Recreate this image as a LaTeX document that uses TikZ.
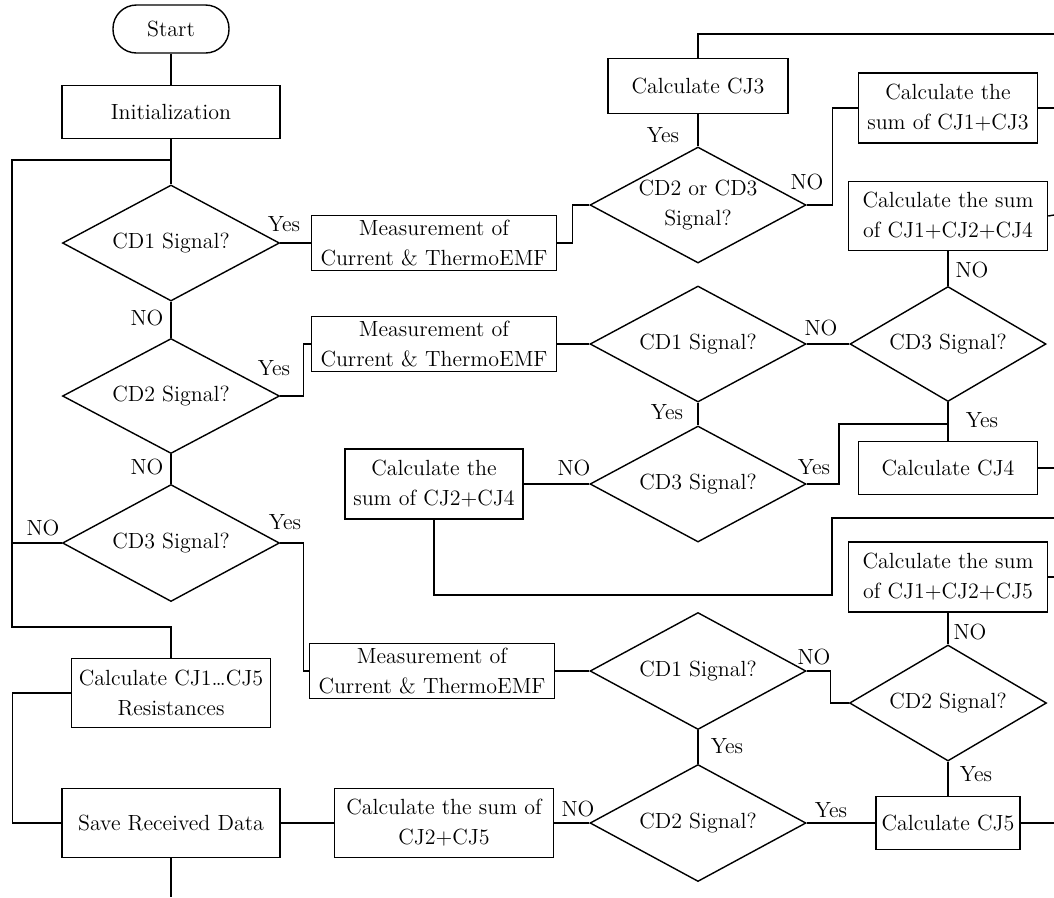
\documentclass[tikz,border=0pt]{standalone}
\usepackage{fontspec}
\usetikzlibrary{shapes.geometric}
\begin{document}
\begin{tikzpicture}[x=0.02cm,y=-0.02cm, line width=0.8pt,
  every node/.style={font=\fontsize{12.5}{17}\selectfont, align=center, inner sep=0pt},
  sz/.style 2 args={minimum width=#1*0.02cm, minimum height=#2*0.02cm},
  box/.style={draw, rectangle},
  term/.style={draw, rectangle, rounded corners=0.47cm},
  dia/.style={draw, diamond, aspect=1.86, inner sep=0pt},
  lbl/.style={}]
\useasboundingbox (0,0) rectangle (1054,897);
% left column
\node[term, sz={116}{48}] (start) at (171,29) {Start};
\node[box, sz={218}{53}] (init) at (171,112) {Initialization};
\node[dia, sz={217}{116}] (cd1) at (171,243) {CD1 Signal?};
\node[dia, sz={217}{115}] (cd2) at (171,396) {CD2 Signal?};
\node[dia, sz={217}{117}] (cd3) at (171,543) {CD3 Signal?};
\node[box, sz={199}{69}] (calc15) at (171,693) {Calculate CJ1\ldots CJ5\\Resistances};
\node[box, sz={218}{69}] (save) at (171,823) {Save Received Data};
% measurement boxes
\node[box, sz={245}{55}] (meas1) at (434,243) {Measurement of\\Current \& ThermoEMF};
\node[box, sz={245}{55}] (meas2) at (434,344) {Measurement of\\Current \& ThermoEMF};
\node[box, sz={245}{55}] (meas3) at (432,671) {Measurement of\\Current \& ThermoEMF};
% middle column
\node[box, sz={180}{55}] (cj3) at (698,86) {Calculate CJ3};
\node[dia, sz={216}{116}] (cd23) at (698,205) {CD2 or CD3\\Signal?};
\node[dia, sz={216}{116}] (cd1b) at (698,344) {CD1 Signal?};
\node[dia, sz={216}{116}] (cd3c) at (698,484) {CD3 Signal?};
\node[box, sz={178}{70}] (s24) at (434,484) {Calculate the\\sum of CJ2+CJ4};
\node[dia, sz={216}{117}] (cd1c) at (698,671) {CD1 Signal?};
\node[dia, sz={216}{117}] (cd2d) at (698,823) {CD2 Signal?};
\node[box, sz={219}{69}] (s25) at (444,823) {Calculate the sum of\\CJ2+CJ5};
% right column
\node[box, sz={179}{70}] (s13) at (948,108) {Calculate the\\sum of CJ1+CJ3};
\node[box, sz={199}{69}] (s124) at (948,216) {Calculate the sum\\of CJ1+CJ2+CJ4};
\node[dia, sz={196}{115}] (cd3b) at (948,344) {CD3 Signal?};
\node[box, sz={179}{53}] (cj4) at (948,468) {Calculate CJ4};
\node[box, sz={199}{70}] (s125) at (948,577) {Calculate the sum\\of CJ1+CJ2+CJ5};
\node[dia, sz={197}{116}] (cd2c) at (948,703) {CD2 Signal?};
\node[box, sz={144}{53}] (cj5) at (948,823) {Calculate CJ5};
% free ends
\coordinate (j1) at (171,160);
\coordinate (L1) at (12,160);
\coordinate (L2) at (12,627);
\coordinate (j2) at (171,627);
\coordinate (e1) at (1054,34);
\coordinate (e2) at (1054,108);
\coordinate (e3) at (1054,215);
\coordinate (e4) at (1054,468);
\coordinate (e5) at (1054,518);
\coordinate (e6) at (1054,577);
\coordinate (e7) at (1054,823);
\coordinate (e8) at (171,897);
\coordinate (j3) at (948,424);
% connectors
\draw (start) -- (init);
\draw (init) -- (cd1);
\draw (j1) -- (L1) -- (L2) -- (j2) -- (calc15.north);
\draw (cd3.west) -- (cd3.west -| L1);
\draw (cd1) -- (cd2);
\draw (cd2) -- (cd3);
\draw (cd1.east) -- (meas1.west);
\draw (meas1.east) -- ++(15,0) |- (cd23.west);
\draw (cd23.north) -- (cj3.south);
\draw (cj3.north) |- (e1);
\draw (cd23.east) -- ++(26,0) |- (s13.west);
\draw (s13.east) -- (e2);
\draw (s124.east) -- (e3);
\draw (s124.south) -- (cd3b.north);
\draw (cd2.east) -- ++(23,0) |- (meas2.west);
\draw (meas2.east) -- (cd1b.west);
\draw (cd1b.east) -- (cd3b.west);
\draw (cd3b.south) -- (cj4.north);
\draw (j3) -- (839,424) |- (cd3c.east);
\draw (cj4.east) -- (e4);
\draw (cd1b.south) -- (cd3c.north);
\draw (cd3c.west) -- (s24.east);
\draw (s24.south) |- (832,595) |- (e5);
\draw (s125.east) -- (e6);
\draw (s125.south) -- (cd2c.north);
\draw (cd2c.south) -- (cj5.north);
\draw (cj5.east) -- (e7);
\draw (cd3.east) -- ++(23,0) |- (meas3.west);
\draw (meas3.east) -- (cd1c.west);
\draw (cd1c.east) -- ++(24,0) |- (cd2c.west);
\draw (cd1c.south) -- (cd2d.north);
\draw (cd2d.east) -- (cj5.west);
\draw (cd2d.west) -- (s25.east);
\draw (s25.west) -- (save.east);
\draw (save.west) -- ++(-49,0) |- (calc15.west);
\draw (save.south) -- (e8);
% labels
\node[lbl] (l1) at (284,224) {Yes};
\node[lbl] (l2) at (147,318) {NO};
\node[lbl] (l3) at (274,368) {Yes};
\node[lbl] (l4) at (147,467) {NO};
\node[lbl] (l5) at (43,528) {NO};
\node[lbl] (l6) at (285,522) {Yes};
\node[lbl] (l7) at (663,135) {Yes};
\node[lbl] (l8) at (807,182) {NO};
\node[lbl] (l9) at (972,270) {NO};
\node[lbl] (l10) at (821,328) {NO};
\node[lbl] (l11) at (982,420) {Yes};
\node[lbl] (l12) at (814,467) {Yes};
\node[lbl] (l13) at (667,412) {Yes};
\node[lbl] (l14) at (574,468) {NO};
\node[lbl] (l15) at (970,632) {NO};
\node[lbl] (l16) at (814,657) {NO};
\node[lbl] (l17) at (727,746) {Yes};
\node[lbl] (l18) at (976,774) {Yes};
\node[lbl] (l19) at (831,810) {Yes};
\node[lbl] (l20) at (578,809) {NO};
\end{tikzpicture}
\end{document}
